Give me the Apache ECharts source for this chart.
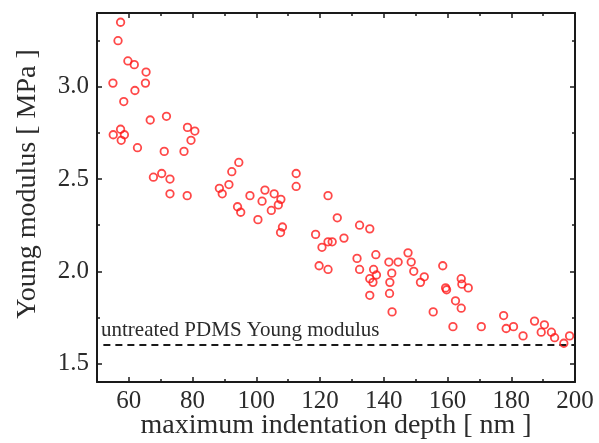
<!DOCTYPE html>
<html>
<head>
<meta charset="utf-8">
<script src="https://cdn.jsdelivr.net/npm/echarts@6/dist/echarts.min.js"></script>
<style>
  html, body { margin: 0; padding: 0; background: #fff; }
  #chart { width: 599px; height: 443px; }
</style>
</head>
<body>
<div id="chart"></div>
<script>
// Maximum indentation depth (nm) for each indentation
const depth = [
  57.4, 56.6, 59.7, 61.7, 65.4, 55.0, 65.2, 61.9, 58.4, 66.7,
  71.8, 55.1, 57.4, 58.6, 57.6, 62.7, 71.1, 78.4, 80.7, 79.5,
  77.3, 67.7, 70.3, 72.9, 72.9, 78.3, 88.4, 89.3, 91.4, 92.3,
  94.5, 98.0, 102.7, 101.8, 105.6, 107.7, 106.9, 94.1, 95.1, 104.7,
  100.5, 112.5, 112.5, 108.2, 107.6, 122.5, 125.4, 118.6, 122.5, 123.8,
  120.6, 127.5, 132.4, 135.6, 131.6, 137.5, 119.7, 122.5, 132.4, 136.8,
  135.6, 137.7, 136.6, 135.6, 141.6, 144.5, 142.5, 141.9, 141.8, 142.6,
  147.6, 148.6, 149.4, 151.5, 152.7, 155.5, 158.5, 159.4, 159.7, 161.7,
  162.5, 164.3, 164.5, 166.5, 164.3, 170.6, 177.6, 178.4, 180.7, 183.7,
  187.3, 190.4, 189.4, 192.6, 193.6, 196.5, 198.3
];
// Young modulus (MPa) measured at each indentation
const modulus = [
  3.35, 3.25, 3.14, 3.12, 3.08, 3.02, 3.02, 2.98, 2.92, 2.82,
  2.84, 2.74, 2.77, 2.74, 2.71, 2.67, 2.65, 2.78, 2.76, 2.71,
  2.65, 2.51, 2.53, 2.50, 2.42, 2.41, 2.45, 2.42, 2.47, 2.54,
  2.59, 2.41, 2.44, 2.38, 2.42, 2.39, 2.36, 2.35, 2.32, 2.33,
  2.28, 2.53, 2.46, 2.24, 2.21, 2.41, 2.29, 2.20, 2.16, 2.16,
  2.13, 2.18, 2.25, 2.23, 2.07, 2.09, 2.03, 2.01, 2.01, 2.01,
  1.96, 1.98, 1.94, 1.87, 2.05, 2.05, 1.99, 1.94, 1.88, 1.78,
  2.10, 2.05, 2.00, 1.94, 1.97, 1.78, 2.03, 1.91, 1.90, 1.70,
  1.84, 1.96, 1.93, 1.91, 1.80, 1.70, 1.76, 1.69, 1.70, 1.65,
  1.73, 1.71, 1.67, 1.67, 1.64, 1.61, 1.65
];
// Reference level of untreated PDMS
const pdmsDepth = [52, 200];
const pdmsModulus = 1.6;
const pdmsLabel = 'untreated PDMS Young modulus';

const xTitle = 'maximum indentation depth [ nm ]';
const yTitle = 'Young modulus [ MPa ]';

const ink = '#2b2b2b';
const serif = '"Liberation Serif", "Times New Roman", serif';

function frameAxis(extra) {
  return Object.assign({
    type: 'value',
    axisLine: { show: true, onZero: false, lineStyle: { color: '#1a1a1a', width: 2 } },
    axisTick: { show: true, inside: true, length: 5, lineStyle: { color: '#1a1a1a', width: 1.5 } },
    minorTick: { show: true, splitNumber: 2, length: 3, lineStyle: { color: '#1a1a1a', width: 1.5 } },
    splitLine: { show: false },
    minorSplitLine: { show: false },
    axisLabel: { show: false }
  }, extra);
}

const xRange = { min: 50, max: 200, minInterval: 20, maxInterval: 20, splitNumber: 7 };
const yRange = { min: 1.4, max: 3.4, minInterval: 0.5, maxInterval: 0.5, splitNumber: 4 };

const chart = echarts.init(document.getElementById('chart'), null, { renderer: 'canvas' });

chart.setOption({
  animation: false,
  backgroundColor: '#ffffff',
  grid: {
    left: 97, right: 24, top: 13, bottom: 61,
    containLabel: false, outerBoundsMode: 'none'
  },
  xAxis: [
    frameAxis(Object.assign({}, xRange, {
      position: 'bottom',
      name: xTitle,
      nameLocation: 'middle',
      nameGap: 30,
      nameMoveOverlap: false,
      nameTextStyle: { fontFamily: serif, fontSize: 28, color: ink },
      axisLabel: {
        show: true, margin: 7, fontFamily: serif, fontSize: 25, color: ink,
        showMinLabel: false, showMaxLabel: true
      }
    })),
    frameAxis(Object.assign({}, xRange, { position: 'top' }))
  ],
  yAxis: [
    frameAxis(Object.assign({}, yRange, {
      position: 'left',
      axisLabel: {
        show: true, margin: 8, fontFamily: serif, fontSize: 25, color: ink,
        showMinLabel: false, showMaxLabel: false,
        formatter: v => v.toFixed(1)
      }
    })),
    frameAxis(Object.assign({}, yRange, { position: 'right' }))
  ],
  graphic: [
    {
      type: 'text',
      x: 28, y: 184,
      rotation: Math.PI / 2,
      style: {
        text: yTitle, font: '28px ' + serif, fill: ink,
        textAlign: 'center', textVerticalAlign: 'middle'
      }
    },
    {
      type: 'text',
      x: 101, y: 330,
      style: {
        text: pdmsLabel, font: '21px ' + serif, fill: ink,
        textAlign: 'left', textVerticalAlign: 'middle'
      }
    }
  ],
  series: [
    {
      type: 'line',
      xAxisIndex: 0, yAxisIndex: 0,
      data: pdmsDepth.map(d => [d, pdmsModulus]),
      symbol: 'none',
      silent: true,
      lineStyle: { color: '#1a1a1a', width: 2, type: [7, 5] },
      z: 2
    },
    {
      type: 'scatter',
      xAxisIndex: 0, yAxisIndex: 0,
      data: depth.map((d, i) => [d, modulus[i]]),
      symbol: 'circle',
      symbolSize: 7.5,
      itemStyle: { color: 'rgba(255,255,255,0)', borderColor: '#ff1a1a', borderWidth: 1.8 },
      emphasis: { disabled: true },
      z: 3
    }
  ]
});
</script>
</body>
</html>
